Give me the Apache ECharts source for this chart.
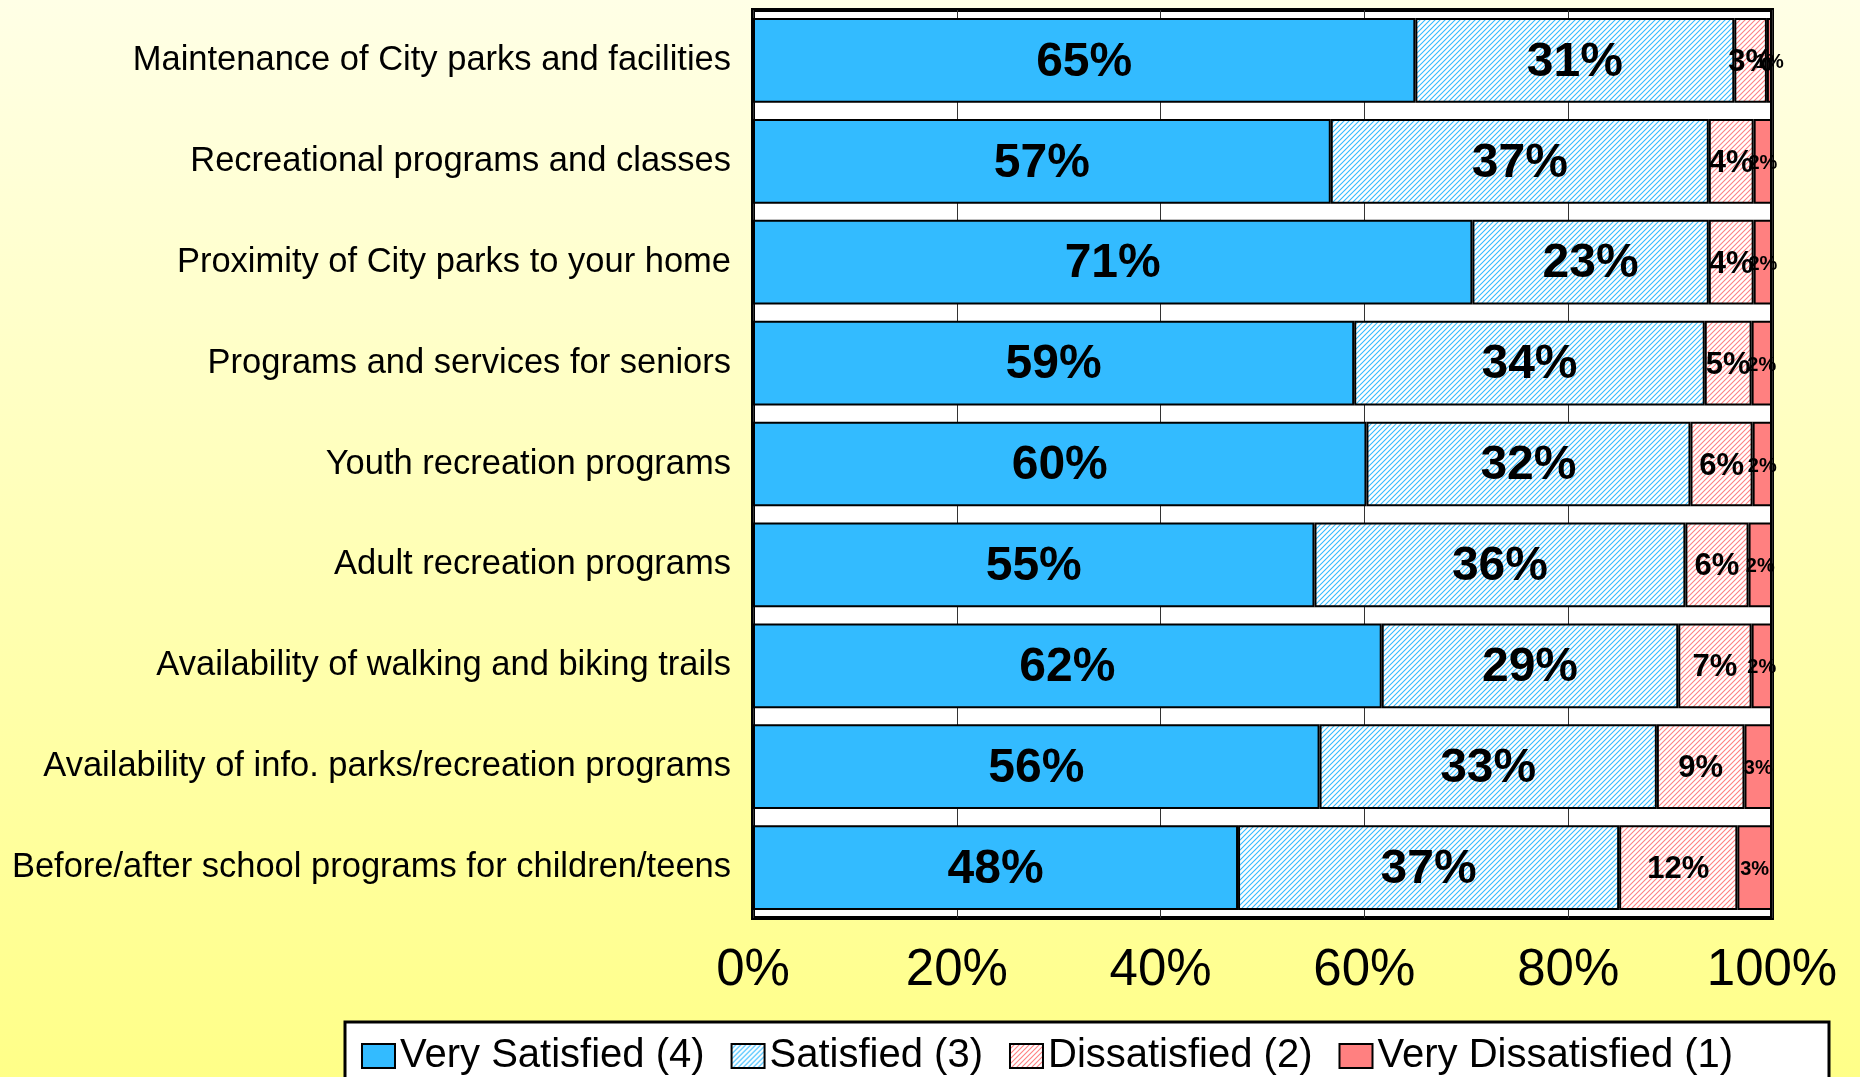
<!DOCTYPE html>
<html>
<head>
<meta charset="utf-8">
<script src="https://cdn.jsdelivr.net/npm/echarts@6/dist/echarts.min.js"></script>
<style>
  html, body { margin: 0; padding: 0; }
  #chart { width: 1860px; height: 1077px; }
</style>
</head>
<body>
<div id="chart"></div>
<script>
// categories, top to bottom
const categories = [
  'Maintenance of City parks and facilities',
  'Recreational programs and classes',
  'Proximity of City parks to your home',
  'Programs and services for seniors',
  'Youth recreation programs',
  'Adult recreation programs',
  'Availability of walking and biking trails',
  'Availability of info. parks/recreation programs',
  'Before/after school programs for children/teens'
];
const seriesNames = ['Very Satisfied (4)', 'Satisfied (3)', 'Dissatisfied (2)', 'Very Dissatisfied (1)'];
const verySatisfied    = [65.0, 56.7, 70.6, 59.0, 60.2, 55.1, 61.7, 55.6, 47.6];
const satisfied        = [31.3, 37.1, 23.2, 34.4, 31.8, 36.4, 29.1, 33.1, 37.4];
const dissatisfied     = [3.2, 4.4, 4.4, 4.6, 6.1, 6.2, 7.2, 8.6, 11.6];
const veryDissatisfied = [0.5, 1.8, 1.8, 2.0, 1.9, 2.3, 2.0, 2.7, 3.4];
const tickValues = [0, 20, 40, 60, 80, 100];

const FONT = 'Arial, "Liberation Sans", sans-serif';

// diagonal hatch fill
function hatch(lineColor) {
  const c = document.createElement('canvas');
  c.width = 5; c.height = 5;
  const ctx = c.getContext('2d');
  ctx.fillStyle = '#ffffff';
  ctx.fillRect(0, 0, 5, 5);
  ctx.strokeStyle = lineColor;
  ctx.lineWidth = 1.1;
  ctx.beginPath();
  ctx.moveTo(-1, 6); ctx.lineTo(6, -1);
  ctx.moveTo(-1, 1); ctx.lineTo(1, -1);
  ctx.moveTo(4, 6); ctx.lineTo(6, 4);
  ctx.stroke();
  return { image: c, repeat: 'repeat' };
}

const fills = ['#33bbff', hatch('#33bbff'), hatch('#ff8080'), '#ff8080'];
const values = [verySatisfied, satisfied, dissatisfied, veryDissatisfied];
const labelSizes = [48, 48, 31, 20];

const chart = echarts.init(document.getElementById('chart'));
chart.setOption({
  animation: false,
  backgroundColor: {
    type: 'linear', x: 0, y: 0, x2: 0, y2: 1,
    colorStops: [{ offset: 0, color: '#ffffe6' }, { offset: 1, color: '#ffff88' }]
  },
  grid: {
    left: 753, right: 88, top: 10, bottom: 159,
    show: true,
    backgroundColor: '#ffffff',
    borderColor: '#000000',
    borderWidth: 4
  },
  legend: {
    data: seriesNames,
    icon: 'rect',
    left: 356,
    top: 1031,
    itemWidth: 33,
    itemHeight: 24,
    itemGap: 26,
    textStyle: { fontFamily: FONT, fontSize: 40, color: '#000' }
  },
  graphic: [{
    type: 'rect',
    z: -1,
    shape: { x: 345, y: 1022, width: 1484, height: 80 },
    style: { fill: '#ffffff', stroke: '#000000', lineWidth: 3 }
  }],
  xAxis: {
    type: 'value',
    min: 0, max: 100, interval: 20,
    axisLine: { show: false },
    axisTick: { show: false },
    splitLine: { show: true, lineStyle: { color: '#333', width: 1 } },
    axisLabel: {
      margin: 27,
      fontFamily: FONT, fontSize: 51, color: '#000',
      formatter: v => tickValues.includes(v) ? v + '%' : ''
    }
  },
  yAxis: {
    type: 'category',
    inverse: true,
    data: categories,
    axisLine: { show: false },
    axisTick: { show: false },
    axisLabel: { margin: 22, padding: [5, 0, 0, 0], fontFamily: FONT, fontSize: 34.5, color: '#000' }
  },
  series: seriesNames.map((name, i) => ({
    name: name,
    type: 'bar',
    stack: 'total',
    barCategoryGap: '16%',
    data: values[i],
    itemStyle: { color: fills[i], borderColor: '#000', borderWidth: 2 },
    label: {
      show: true,
      position: 'inside',
      offset: [0, 2],
      color: '#000',
      fontFamily: FONT,
      fontWeight: 'bold',
      fontSize: labelSizes[i],
      formatter: p => Math.round(p.value) + '%'
    }
  }))
});
</script>
</body>
</html>
